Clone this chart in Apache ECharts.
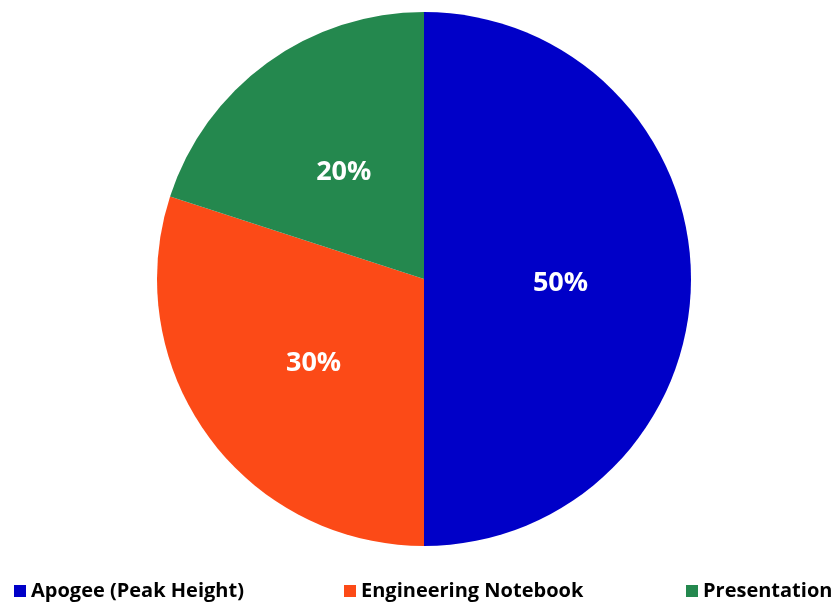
<!DOCTYPE html>
<html><head><meta charset="utf-8">
<script src="https://cdn.jsdelivr.net/npm/echarts@6/dist/echarts.min.js"></script>
<style>html,body{margin:0;padding:0;background:#fff}#c{width:833px;height:603px}</style>
</head><body><div id="c"></div>
<script>
const categories = ["Apogee (Peak Height)", "Engineering Notebook", "Presentation"];
const values = [50, 30, 20];
const colors = ["#0000C8", "#FC4A17", "#24884E"];

const chart = echarts.init(document.getElementById('c'));
const font = '"Open Sans", "Noto Sans", sans-serif';
const legendLefts = [14, 344, 686];
chart.setOption({
  animation: false,
  color: colors,
  legend: categories.map((name, i) => ({
    data: [name],
    left: legendLefts[i],
    top: 581,
    icon: 'rect',
    itemWidth: 12,
    itemHeight: 12,
    itemGap: 0,
    padding: 0,
    textStyle: { fontFamily: font, fontWeight: 'bold', fontSize: 20, color: '#000', padding: [0, 0, 0, 0] }
  })),
  series: [{
    type: 'pie',
    center: [424, 279],
    radius: [0, 267],
    startAngle: 90,
    clockwise: true,
    label: {
      show: true,
      position: 'inside',
      formatter: p => Math.round(p.percent) + '%',
      color: '#fff',
      fontFamily: font,
      fontWeight: 'bold',
      fontSize: 27,
      offset: [0, 4]
    },
    labelLine: { show: false },
    emphasis: { disabled: true },
    itemStyle: { borderWidth: 0 },
    data: categories.map((n, i) => ({ name: n, value: values[i] }))
  }]
});
</script></body></html>
